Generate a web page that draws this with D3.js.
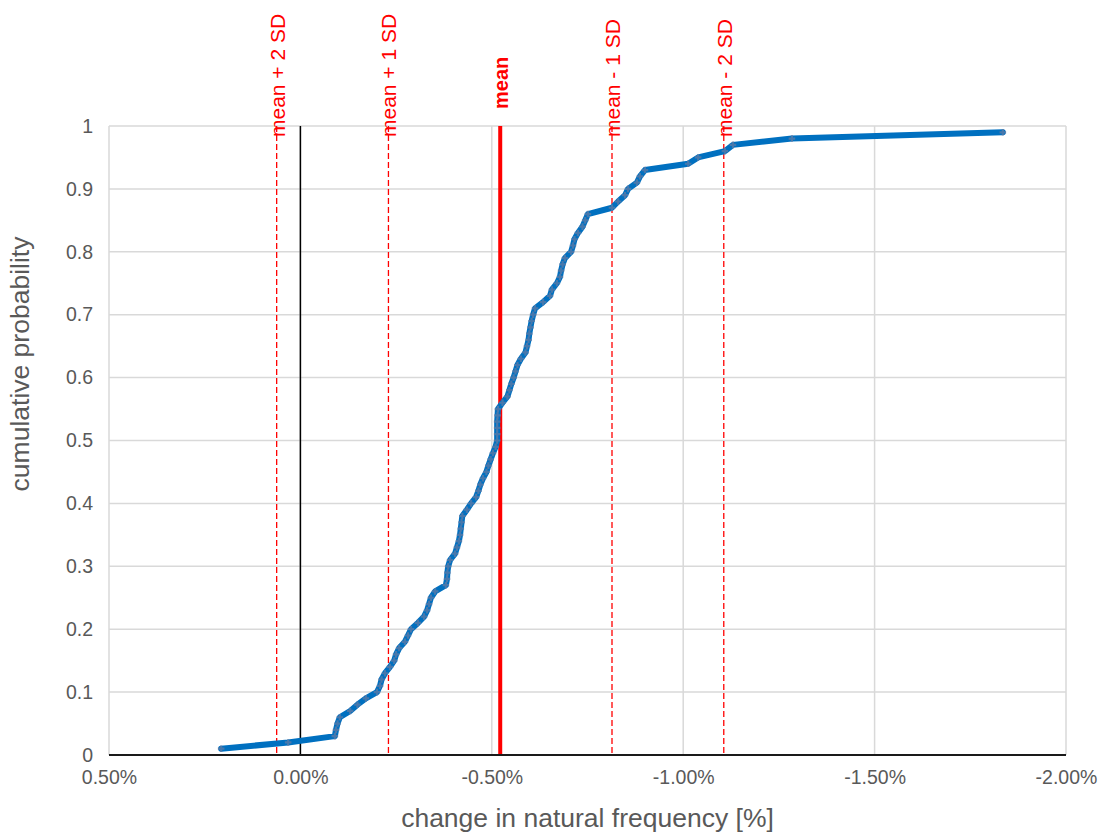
<!DOCTYPE html>
<html>
<head>
<meta charset="utf-8">
<script src="https://cdn.jsdelivr.net/npm/d3@7"></script>
<style>
  html, body { margin: 0; padding: 0; background: #fff; }
  svg { display: block; font-family: "Liberation Sans", Arial, sans-serif; }
</style>
</head>
<body>
<svg id="chart" width="1104" height="832"></svg>
<script>
// ---- data ----
const changePct = [
  0.207, 0.032, -0.090, -0.093, -0.097, -0.103, -0.130, -0.149, -0.171, -0.200,
  -0.208, -0.212, -0.221, -0.234, -0.245, -0.250, -0.258, -0.273, -0.281, -0.289,
  -0.307, -0.323, -0.331, -0.336, -0.341, -0.352, -0.380, -0.383, -0.384, -0.386,
  -0.391, -0.404, -0.409, -0.414, -0.417, -0.419, -0.421, -0.423, -0.435, -0.446,
  -0.459, -0.465, -0.470, -0.477, -0.486, -0.491, -0.497, -0.503, -0.510, -0.514,
  -0.514, -0.514, -0.514, -0.515, -0.516, -0.528, -0.541, -0.546, -0.551, -0.557,
  -0.562, -0.567, -0.576, -0.588, -0.592, -0.596, -0.598, -0.601, -0.604, -0.608,
  -0.613, -0.634, -0.652, -0.657, -0.670, -0.678, -0.681, -0.685, -0.691, -0.707,
  -0.712, -0.716, -0.725, -0.737, -0.744, -0.751, -0.814, -0.830, -0.848, -0.856,
  -0.879, -0.887, -0.900, -1.013, -1.039, -1.109, -1.130, -1.284, -1.835
];
const cumProb = [
  0.01, 0.02, 0.03, 0.04, 0.05, 0.06, 0.07, 0.08, 0.09, 0.10,
  0.11, 0.12, 0.13, 0.14, 0.15, 0.16, 0.17, 0.18, 0.19, 0.20,
  0.21, 0.22, 0.23, 0.24, 0.25, 0.26, 0.27, 0.28, 0.29, 0.30,
  0.31, 0.32, 0.33, 0.34, 0.35, 0.36, 0.37, 0.38, 0.39, 0.40,
  0.41, 0.42, 0.43, 0.44, 0.45, 0.46, 0.47, 0.48, 0.49, 0.50,
  0.51, 0.52, 0.53, 0.54, 0.55, 0.56, 0.57, 0.58, 0.59, 0.60,
  0.61, 0.62, 0.63, 0.64, 0.65, 0.66, 0.67, 0.68, 0.69, 0.70,
  0.71, 0.72, 0.73, 0.74, 0.75, 0.76, 0.77, 0.78, 0.79, 0.80,
  0.81, 0.82, 0.83, 0.84, 0.85, 0.86, 0.87, 0.88, 0.89, 0.90,
  0.91, 0.92, 0.93, 0.94, 0.95, 0.96, 0.97, 0.98, 0.99
];
const xTickValues = [0.5, 0.0, -0.5, -1.0, -1.5, -2.0];
const xTickLabels = ["0.50%", "0.00%", "-0.50%", "-1.00%", "-1.50%", "-2.00%"];
const yTickValues = [0, 0.1, 0.2, 0.3, 0.4, 0.5, 0.6, 0.7, 0.8, 0.9, 1];
const yTickLabels = ["0", "0.1", "0.2", "0.3", "0.4", "0.5", "0.6", "0.7", "0.8", "0.9", "1"];
const refNames = ["mean + 2 SD", "mean + 1 SD", "mean", "mean - 1 SD", "mean - 2 SD"];
const refValues = [0.062, -0.230, -0.522, -0.814, -1.106];
const xTitle = "change in natural frequency [%]";
const yTitle = "cumulative probability";

// ---- layout ----
const L = 109, R = 1066, T = 126, B = 755;
const svg = d3.select("#chart");
const x = d3.scaleLinear().domain([0.5, -2.0]).range([L, R]);
const y = d3.scaleLinear().domain([0, 1]).range([B, T]);

// gridlines
const grid = svg.append("g");
grid.selectAll("line.h").data(yTickValues.filter(v => v > 0)).join("line")
  .attr("x1", L).attr("x2", R).attr("y1", d => y(d)).attr("y2", d => y(d))
  .attr("stroke", "#d9d9d9").attr("stroke-width", 1.5);
grid.selectAll("line.v").data(xTickValues).join("line")
  .attr("x1", d => x(d)).attr("x2", d => x(d)).attr("y1", T).attr("y2", B)
  .attr("stroke", "#d9d9d9").attr("stroke-width", 1.5);

// x axis
const xAxis = d3.axisBottom(x).tickValues(xTickValues)
  .tickFormat((d, i) => xTickLabels[i]).tickSize(0).tickPadding(15);
const gx = svg.append("g").attr("transform", `translate(0,${B})`).call(xAxis);
gx.select(".domain").remove();
gx.selectAll("text").attr("fill", "#595959").style("font-size", "19.5px")
  .style("font-family", "'Liberation Sans', Arial, sans-serif");

// y axis
const yAxis = d3.axisLeft(y).tickValues(yTickValues)
  .tickFormat((d, i) => yTickLabels[i]).tickSize(0).tickPadding(16);
const gy = svg.append("g").attr("transform", `translate(${L},0)`).call(yAxis);
gy.select(".domain").remove();
gy.selectAll("text").attr("fill", "#595959").style("font-size", "19.5px")
  .style("font-family", "'Liberation Sans', Arial, sans-serif");

// zero line (black vertical)
svg.append("line")
  .attr("x1", x(0)).attr("x2", x(0)).attr("y1", T).attr("y2", B)
  .attr("stroke", "#000").attr("stroke-width", 1.5);

// reference lines
refValues.forEach((v, i) => {
  const isMean = refNames[i] === "mean";
  svg.append("line")
    .attr("x1", x(v)).attr("x2", x(v)).attr("y1", T).attr("y2", B)
    .attr("stroke", "#ff0000")
    .attr("stroke-width", isMean ? 4 : 1.3)
    .attr("stroke-dasharray", isMean ? null : "6,3");
});

// bottom axis line
svg.append("line").attr("x1", L).attr("x2", R).attr("y1", B).attr("y2", B)
  .attr("stroke", "#1a1a1a").attr("stroke-width", 2);

// curve
const pts = changePct.map((v, i) => [v, cumProb[i]]);
svg.append("path").datum(pts)
  .attr("fill", "none").attr("stroke", "#0070C0").attr("stroke-width", 6)
  .attr("stroke-linejoin", "round").attr("stroke-linecap", "round")
  .attr("d", d3.line().x(d => x(d[0])).y(d => y(d[1])));
svg.append("g").selectAll("path").data(pts).join("path")
  .attr("transform", d => `translate(${x(d[0])},${y(d[1])})`)
  .attr("d", d3.symbol().type(d3.symbolCross).size(24))
  .attr("fill", "#5a7aa6").attr("opacity", 0.8);

// reference labels
refValues.forEach((v, i) => {
  const isMean = refNames[i] === "mean";
  svg.append("text")
    .attr("transform", `translate(${x(v) + 8},${isMean ? 109 : 137}) rotate(-90)`)
    .attr("fill", "#ff0000")
    .style("font-size", isMean ? "20px" : "21px")
    .style("font-weight", isMean ? "bold" : "normal")
    .text(refNames[i]);
});

// axis titles
svg.append("text").attr("x", (L + R) / 2).attr("y", 827)
  .attr("text-anchor", "middle").attr("fill", "#595959")
  .style("font-size", "26.5px").text(xTitle);
svg.append("text").attr("transform", `translate(29,364) rotate(-90)`)
  .attr("text-anchor", "middle").attr("fill", "#595959")
  .style("font-size", "26.5px").text(yTitle);
</script>
</body>
</html>
